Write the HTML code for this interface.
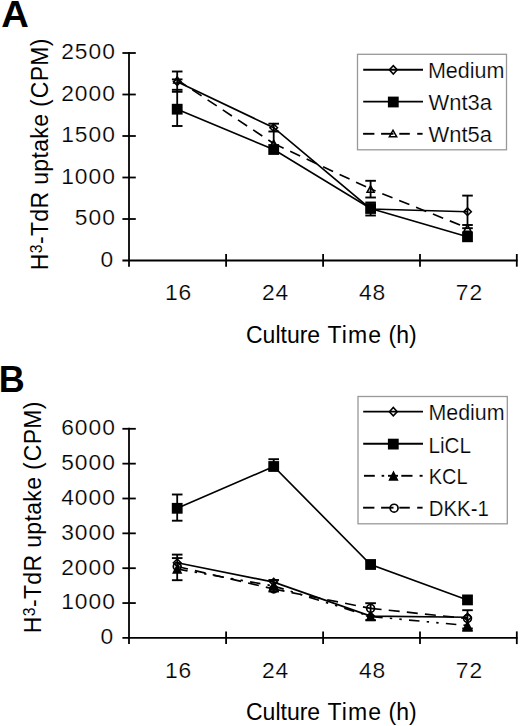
<!DOCTYPE html><html><head><meta charset="utf-8"><style>html,body{margin:0;padding:0;background:#fff;width:520px;height:726px;overflow:hidden}svg{display:block}</style></head><body><svg width="520" height="726" viewBox="0 0 520 726">
<style>text{font-family:"Liberation Sans", sans-serif;fill:#000} .tk{font-size:22.8px;letter-spacing:1.0px;stroke:#fff;stroke-width:0.22px} .ti{font-size:23px} .lg{font-size:22.4px;stroke:#fff;stroke-width:0.22px} .pl{font-size:36px;font-weight:bold}</style>
<rect width="520" height="726" fill="#fff"/>
<text x="1.2" y="26.6" class="pl" textLength="27.6" lengthAdjust="spacingAndGlyphs">A</text>
<text x="-1.3" y="392" class="pl">B</text>
<line x1="129" y1="52.0" x2="129" y2="266.7" stroke="#000" stroke-width="1.8"/>
<line x1="122.4" y1="53.00" x2="135.8" y2="53.00" stroke="#000" stroke-width="1.8"/>
<line x1="122.4" y1="94.50" x2="135.8" y2="94.50" stroke="#000" stroke-width="1.8"/>
<line x1="122.4" y1="136.00" x2="135.8" y2="136.00" stroke="#000" stroke-width="1.8"/>
<line x1="122.4" y1="177.50" x2="135.8" y2="177.50" stroke="#000" stroke-width="1.8"/>
<line x1="122.4" y1="219.00" x2="135.8" y2="219.00" stroke="#000" stroke-width="1.8"/>
<line x1="122.4" y1="260.50" x2="517.5" y2="260.50" stroke="#000" stroke-width="1.8"/>
<line x1="226.1" y1="254.00" x2="226.1" y2="266.70" stroke="#000" stroke-width="1.8"/>
<line x1="323.1" y1="254.00" x2="323.1" y2="266.70" stroke="#000" stroke-width="1.8"/>
<line x1="420" y1="254.00" x2="420" y2="266.70" stroke="#000" stroke-width="1.8"/>
<line x1="516.8" y1="254.00" x2="516.8" y2="266.70" stroke="#000" stroke-width="1.8"/>
<text x="115.90" y="59.40" text-anchor="end" class="tk">2500</text>
<text x="115.90" y="100.90" text-anchor="end" class="tk">2000</text>
<text x="115.90" y="142.40" text-anchor="end" class="tk">1500</text>
<text x="115.90" y="183.90" text-anchor="end" class="tk">1000</text>
<text x="115.90" y="225.40" text-anchor="end" class="tk">500</text>
<text x="114.10" y="266.50" text-anchor="end" class="tk">0</text>
<text x="178.6" y="300.10" text-anchor="middle" class="tk">16</text>
<text x="275.6" y="300.10" text-anchor="middle" class="tk">24</text>
<text x="372.6" y="300.10" text-anchor="middle" class="tk">48</text>
<text x="469.4" y="300.10" text-anchor="middle" class="tk">72</text>
<text x="246" y="342.70" class="ti">Culture <tspan dx="1" letter-spacing="1.1">Time</tspan> (h)</text>
<text transform="translate(47.7,270.2) rotate(-90)" class="ti" letter-spacing="0.35">H<tspan dy="-6.0" font-size="15.8">3</tspan><tspan dy="6.0">-TdR uptake </tspan><tspan dx="0">(</tspan><tspan dx="0.6">CPM)</tspan></text>
<line x1="177.20" y1="71.50" x2="177.20" y2="126.00" stroke="#000" stroke-width="1.8"/>
<line x1="171.90" y1="71.50" x2="182.50" y2="71.50" stroke="#000" stroke-width="1.9"/>
<line x1="171.90" y1="126.00" x2="182.50" y2="126.00" stroke="#000" stroke-width="1.9"/>
<line x1="171.90" y1="79.40" x2="182.50" y2="79.40" stroke="#000" stroke-width="1.9"/>
<line x1="171.90" y1="89.80" x2="182.50" y2="89.80" stroke="#000" stroke-width="1.9"/>
<line x1="171.90" y1="91.80" x2="182.50" y2="91.80" stroke="#000" stroke-width="1.9"/>
<line x1="273.70" y1="123.70" x2="273.70" y2="131.50" stroke="#000" stroke-width="1.8"/>
<line x1="268.40" y1="123.70" x2="279.00" y2="123.70" stroke="#000" stroke-width="1.9"/>
<line x1="268.40" y1="131.50" x2="279.00" y2="131.50" stroke="#000" stroke-width="1.9"/>
<line x1="273.7" y1="131.5" x2="273.7" y2="143" stroke="#000" stroke-width="1.8"/>
<line x1="370.60" y1="180.80" x2="370.60" y2="197.50" stroke="#000" stroke-width="1.8"/>
<line x1="365.30" y1="180.80" x2="375.90" y2="180.80" stroke="#000" stroke-width="1.9"/>
<line x1="365.30" y1="197.50" x2="375.90" y2="197.50" stroke="#000" stroke-width="1.9"/>
<line x1="370.60" y1="202.50" x2="370.60" y2="215.50" stroke="#000" stroke-width="1.8"/>
<line x1="365.30" y1="202.50" x2="375.90" y2="202.50" stroke="#000" stroke-width="1.9"/>
<line x1="365.30" y1="215.50" x2="375.90" y2="215.50" stroke="#000" stroke-width="1.9"/>
<line x1="467.50" y1="195.60" x2="467.50" y2="225.00" stroke="#000" stroke-width="1.8"/>
<line x1="462.20" y1="195.60" x2="472.80" y2="195.60" stroke="#000" stroke-width="1.9"/>
<line x1="462.20" y1="225.00" x2="472.80" y2="225.00" stroke="#000" stroke-width="1.9"/>
<line x1="462.20" y1="228.20" x2="472.80" y2="228.20" stroke="#000" stroke-width="1.9"/>
<line x1="177.20" y1="79.80" x2="273.70" y2="143.50" stroke="#000" stroke-width="1.65" stroke-dasharray="11 7.2" stroke-dashoffset="0"/>
<line x1="273.70" y1="143.50" x2="370.60" y2="189.00" stroke="#000" stroke-width="1.65" stroke-dasharray="11 7.2" stroke-dashoffset="0"/>
<line x1="370.60" y1="189.00" x2="467.50" y2="228.00" stroke="#000" stroke-width="1.65" stroke-dasharray="11 7.2" stroke-dashoffset="5.6"/>
<polyline points="177.20,81.70 273.70,127.70 370.60,209.00 467.50,211.70" fill="none" stroke="#000" stroke-width="1.65"/>
<polyline points="177.20,109.20 273.70,149.50 370.60,208.50 467.50,236.80" fill="none" stroke="#000" stroke-width="1.65"/>
<path d="M173.70 83.00L177.20 76.60L180.70 83.00Z" fill="none" stroke="#000" stroke-width="1.5" stroke-linejoin="miter"/>
<path d="M270.20 146.70L273.70 140.30L277.20 146.70Z" fill="none" stroke="#000" stroke-width="1.5" stroke-linejoin="miter"/>
<path d="M367.10 192.20L370.60 185.80L374.10 192.20Z" fill="none" stroke="#000" stroke-width="1.5" stroke-linejoin="miter"/>
<path d="M464.00 231.20L467.50 224.80L471.00 231.20Z" fill="none" stroke="#000" stroke-width="1.5" stroke-linejoin="miter"/>
<rect x="171.80" y="103.80" width="10.8" height="10.8" fill="#000"/>
<rect x="268.30" y="144.10" width="10.8" height="10.8" fill="#000"/>
<rect x="365.20" y="203.10" width="10.8" height="10.8" fill="#000"/>
<rect x="462.10" y="231.40" width="10.8" height="10.8" fill="#000"/>
<path d="M173.45 81.70L177.20 77.95L180.95 81.70L177.20 85.45Z" fill="none" stroke="#000" stroke-width="1.6"/>
<path d="M269.95 127.70L273.70 123.95L277.45 127.70L273.70 131.45Z" fill="none" stroke="#000" stroke-width="1.6"/>
<path d="M366.85 209.00L370.60 205.25L374.35 209.00L370.60 212.75Z" fill="none" stroke="#000" stroke-width="1.6"/>
<path d="M463.75 211.70L467.50 207.95L471.25 211.70L467.50 215.45Z" fill="none" stroke="#000" stroke-width="1.6"/>
<rect x="357.5" y="54.3" width="149" height="95.5" fill="none" stroke="#999" stroke-width="1.3"/>
<line x1="363.2" y1="69.7" x2="423" y2="69.7" stroke="#000" stroke-width="1.9"/>
<path d="M389.40 69.80L393.30 65.60L397.20 69.80L393.30 74.00Z" fill="none" stroke="#000" stroke-width="1.6"/>
<text id="lg_MediumA" x="427.90" y="77.90" class="lg" textLength="76.51" lengthAdjust="spacingAndGlyphs">Medium</text>
<line x1="363.2" y1="101.6" x2="423" y2="101.6" stroke="#000" stroke-width="1.9"/>
<rect x="387.90" y="96.60" width="10.8" height="10.8" fill="#000"/>
<text id="lg_Wnt3a" x="428.60" y="109.80" class="lg" textLength="63.44" lengthAdjust="spacingAndGlyphs">Wnt3a</text>
<line x1="363.1" y1="133.8" x2="374.4" y2="133.8" stroke="#000" stroke-width="1.9"/>
<line x1="381.1" y1="133.8" x2="393.5" y2="133.8" stroke="#000" stroke-width="1.9"/>
<line x1="399.3" y1="133.8" x2="409.8" y2="133.8" stroke="#000" stroke-width="1.9"/>
<line x1="417.2" y1="133.8" x2="422.6" y2="133.8" stroke="#000" stroke-width="1.9"/>
<path d="M389.30 136.80L393.00 130.20L396.70 136.80Z" fill="none" stroke="#000" stroke-width="1.5" stroke-linejoin="miter"/>
<text id="lg_Wnt5a" x="428.60" y="141.60" class="lg" textLength="63.44" lengthAdjust="spacingAndGlyphs">Wnt5a</text>
<line x1="129" y1="427.8" x2="129" y2="644.1" stroke="#000" stroke-width="1.8"/>
<line x1="122.4" y1="428.80" x2="135.8" y2="428.80" stroke="#000" stroke-width="1.8"/>
<line x1="122.4" y1="463.65" x2="135.8" y2="463.65" stroke="#000" stroke-width="1.8"/>
<line x1="122.4" y1="498.50" x2="135.8" y2="498.50" stroke="#000" stroke-width="1.8"/>
<line x1="122.4" y1="533.35" x2="135.8" y2="533.35" stroke="#000" stroke-width="1.8"/>
<line x1="122.4" y1="568.20" x2="135.8" y2="568.20" stroke="#000" stroke-width="1.8"/>
<line x1="122.4" y1="603.05" x2="135.8" y2="603.05" stroke="#000" stroke-width="1.8"/>
<line x1="122.4" y1="637.90" x2="517.5" y2="637.90" stroke="#000" stroke-width="1.8"/>
<line x1="226.1" y1="631.40" x2="226.1" y2="644.10" stroke="#000" stroke-width="1.8"/>
<line x1="323.1" y1="631.40" x2="323.1" y2="644.10" stroke="#000" stroke-width="1.8"/>
<line x1="420" y1="631.40" x2="420" y2="644.10" stroke="#000" stroke-width="1.8"/>
<line x1="516.8" y1="631.40" x2="516.8" y2="644.10" stroke="#000" stroke-width="1.8"/>
<text x="115.90" y="435.20" text-anchor="end" class="tk">6000</text>
<text x="115.90" y="470.05" text-anchor="end" class="tk">5000</text>
<text x="115.90" y="504.90" text-anchor="end" class="tk">4000</text>
<text x="115.90" y="539.75" text-anchor="end" class="tk">3000</text>
<text x="115.90" y="574.60" text-anchor="end" class="tk">2000</text>
<text x="115.90" y="609.45" text-anchor="end" class="tk">1000</text>
<text x="114.10" y="643.90" text-anchor="end" class="tk">0</text>
<text x="178.6" y="677.50" text-anchor="middle" class="tk">16</text>
<text x="275.6" y="677.50" text-anchor="middle" class="tk">24</text>
<text x="372.6" y="677.50" text-anchor="middle" class="tk">48</text>
<text x="469.4" y="677.50" text-anchor="middle" class="tk">72</text>
<text x="246" y="720.10" class="ti">Culture <tspan dx="1" letter-spacing="1.1">Time</tspan> (h)</text>
<text transform="translate(41.4,633.2) rotate(-90)" class="ti" letter-spacing="0.35">H<tspan dy="-6.0" font-size="15.8">3</tspan><tspan dy="6.0">-TdR uptake </tspan><tspan dx="0">(</tspan><tspan dx="0.6">CPM)</tspan></text>
<line x1="177.20" y1="494.50" x2="177.20" y2="520.70" stroke="#000" stroke-width="1.8"/>
<line x1="171.90" y1="494.50" x2="182.50" y2="494.50" stroke="#000" stroke-width="1.9"/>
<line x1="171.90" y1="520.70" x2="182.50" y2="520.70" stroke="#000" stroke-width="1.9"/>
<line x1="177.20" y1="554.60" x2="177.20" y2="580.20" stroke="#000" stroke-width="1.8"/>
<line x1="171.90" y1="554.60" x2="182.50" y2="554.60" stroke="#000" stroke-width="1.9"/>
<line x1="171.90" y1="580.20" x2="182.50" y2="580.20" stroke="#000" stroke-width="1.9"/>
<line x1="171.90" y1="558.10" x2="182.50" y2="558.10" stroke="#000" stroke-width="1.9"/>
<line x1="273.70" y1="459.20" x2="273.70" y2="470.00" stroke="#000" stroke-width="1.8"/>
<line x1="268.40" y1="459.20" x2="279.00" y2="459.20" stroke="#000" stroke-width="1.9"/>
<line x1="268.40" y1="470.00" x2="279.00" y2="470.00" stroke="#000" stroke-width="1.9"/>
<line x1="273.70" y1="580.00" x2="273.70" y2="591.50" stroke="#000" stroke-width="1.8"/>
<line x1="268.40" y1="580.00" x2="279.00" y2="580.00" stroke="#000" stroke-width="1.9"/>
<line x1="268.40" y1="591.50" x2="279.00" y2="591.50" stroke="#000" stroke-width="1.9"/>
<line x1="370.60" y1="603.20" x2="370.60" y2="620.10" stroke="#000" stroke-width="1.8"/>
<line x1="365.30" y1="603.20" x2="375.90" y2="603.20" stroke="#000" stroke-width="1.9"/>
<line x1="365.30" y1="620.10" x2="375.90" y2="620.10" stroke="#000" stroke-width="1.9"/>
<line x1="467.50" y1="610.20" x2="467.50" y2="630.80" stroke="#000" stroke-width="1.8"/>
<line x1="462.20" y1="610.20" x2="472.80" y2="610.20" stroke="#000" stroke-width="1.9"/>
<line x1="462.20" y1="630.80" x2="472.80" y2="630.80" stroke="#000" stroke-width="1.9"/>
<line x1="462.20" y1="628.50" x2="472.80" y2="628.50" stroke="#000" stroke-width="1.9"/>
<line x1="177.20" y1="566.50" x2="273.70" y2="589.00" stroke="#000" stroke-width="1.65" stroke-dasharray="11 7.2" stroke-dashoffset="0"/>
<line x1="273.70" y1="589.00" x2="370.60" y2="608.40" stroke="#000" stroke-width="1.65" stroke-dasharray="11 7.2" stroke-dashoffset="0"/>
<line x1="370.60" y1="608.40" x2="467.50" y2="618.50" stroke="#000" stroke-width="1.65" stroke-dasharray="11 7.2" stroke-dashoffset="0"/>
<line x1="177.20" y1="569.00" x2="273.70" y2="586.00" stroke="#000" stroke-width="1.65" stroke-dasharray="10.5 7.2 2.4 7.2 2.4 7.3" stroke-dashoffset="0"/>
<line x1="273.70" y1="586.00" x2="370.60" y2="616.50" stroke="#000" stroke-width="1.65" stroke-dasharray="10.5 7.2 2.4 7.2 2.4 7.3" stroke-dashoffset="0"/>
<line x1="370.60" y1="616.50" x2="467.50" y2="625.50" stroke="#000" stroke-width="1.65" stroke-dasharray="10.5 7.2 2.4 7.2 2.4 7.3" stroke-dashoffset="-1.6"/>
<polyline points="177.20,562.80 273.70,582.10 370.60,616.10 467.50,617.20" fill="none" stroke="#000" stroke-width="1.65"/>
<polyline points="177.20,508.30 273.70,466.50 370.60,564.50 467.50,599.90" fill="none" stroke="#000" stroke-width="1.65"/>
<rect x="171.80" y="502.90" width="10.8" height="10.8" fill="#000"/>
<rect x="268.30" y="461.10" width="10.8" height="10.8" fill="#000"/>
<rect x="365.20" y="559.10" width="10.8" height="10.8" fill="#000"/>
<rect x="462.10" y="594.50" width="10.8" height="10.8" fill="#000"/>
<path d="M173.30 572.90L177.20 565.10L181.10 572.90Z" fill="#000" stroke="#000" stroke-width="1.5" stroke-linejoin="miter"/>
<path d="M269.80 589.90L273.70 582.10L277.60 589.90Z" fill="#000" stroke="#000" stroke-width="1.5" stroke-linejoin="miter"/>
<path d="M366.70 620.40L370.60 612.60L374.50 620.40Z" fill="#000" stroke="#000" stroke-width="1.5" stroke-linejoin="miter"/>
<path d="M463.60 629.40L467.50 621.60L471.40 629.40Z" fill="#000" stroke="#000" stroke-width="1.5" stroke-linejoin="miter"/>
<circle cx="177.20" cy="566.50" r="3.9" fill="none" stroke="#000" stroke-width="1.7"/>
<circle cx="273.70" cy="589.00" r="3.9" fill="none" stroke="#000" stroke-width="1.7"/>
<circle cx="370.60" cy="608.40" r="3.9" fill="none" stroke="#000" stroke-width="1.7"/>
<circle cx="467.50" cy="618.50" r="3.9" fill="none" stroke="#000" stroke-width="1.7"/>
<path d="M173.45 562.80L177.20 559.05L180.95 562.80L177.20 566.55Z" fill="none" stroke="#000" stroke-width="1.6"/>
<path d="M269.95 582.10L273.70 578.35L277.45 582.10L273.70 585.85Z" fill="none" stroke="#000" stroke-width="1.6"/>
<path d="M366.85 616.10L370.60 612.35L374.35 616.10L370.60 619.85Z" fill="none" stroke="#000" stroke-width="1.6"/>
<path d="M463.75 617.20L467.50 613.45L471.25 617.20L467.50 620.95Z" fill="none" stroke="#000" stroke-width="1.6"/>
<rect x="358" y="396.5" width="149.3" height="127.3" fill="none" stroke="#999" stroke-width="1.3"/>
<line x1="363.2" y1="411.6" x2="423" y2="411.6" stroke="#000" stroke-width="1.9"/>
<path d="M389.40 411.70L393.30 407.50L397.20 411.70L393.30 415.90Z" fill="none" stroke="#000" stroke-width="1.6"/>
<text id="lg_MediumB" x="428.40" y="420.20" class="lg" textLength="76.19" lengthAdjust="spacingAndGlyphs">Medium</text>
<line x1="363.2" y1="443.7" x2="423" y2="443.7" stroke="#000" stroke-width="1.9"/>
<rect x="387.90" y="438.70" width="10.8" height="10.8" fill="#000"/>
<text id="lg_LiCL" x="428.40" y="452.50" class="lg" textLength="42.65" lengthAdjust="spacingAndGlyphs">LiCL</text>
<line x1="364" y1="475.8" x2="374.8" y2="475.8" stroke="#000" stroke-width="1.9"/>
<line x1="381.6" y1="475.8" x2="384.2" y2="475.8" stroke="#000" stroke-width="1.9"/>
<line x1="388" y1="475.8" x2="398" y2="475.8" stroke="#000" stroke-width="1.9"/>
<line x1="401.3" y1="475.8" x2="412.5" y2="475.8" stroke="#000" stroke-width="1.9"/>
<line x1="419.6" y1="475.8" x2="422.6" y2="475.8" stroke="#000" stroke-width="1.9"/>
<path d="M389.60 479.90L393.50 472.10L397.40 479.90Z" fill="#000" stroke="#000" stroke-width="1.5" stroke-linejoin="miter"/>
<text id="lg_KCL" x="428.70" y="483.90" class="lg" textLength="38.90" lengthAdjust="spacingAndGlyphs">KCL</text>
<line x1="363.1" y1="507.7" x2="374.4" y2="507.7" stroke="#000" stroke-width="1.9"/>
<line x1="381.1" y1="507.7" x2="393.5" y2="507.7" stroke="#000" stroke-width="1.9"/>
<line x1="399.3" y1="507.7" x2="409.8" y2="507.7" stroke="#000" stroke-width="1.9"/>
<line x1="417.2" y1="507.7" x2="422.6" y2="507.7" stroke="#000" stroke-width="1.9"/>
<circle cx="394.10" cy="508.20" r="3.95" fill="none" stroke="#000" stroke-width="1.7"/>
<text id="lg_DKK-1" x="428.70" y="516.10" class="lg" textLength="60.09" lengthAdjust="spacingAndGlyphs">DKK-1</text>
</svg></body></html>
